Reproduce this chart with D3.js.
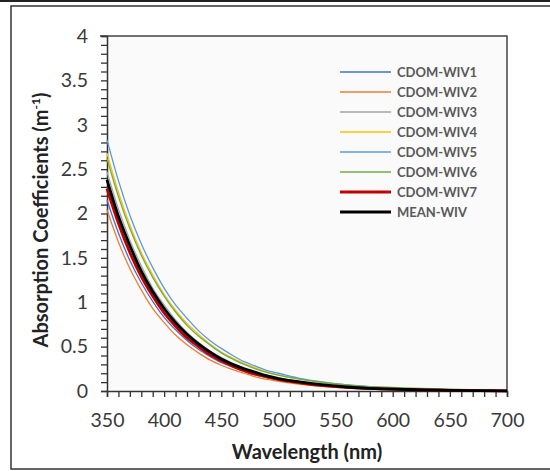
<!DOCTYPE html>
<html>
<head>
<meta charset="utf-8">
<script src="https://cdn.jsdelivr.net/npm/d3@7"></script>
<style>
  body { margin: 0; background: #fff; }
  svg { display: block; font-family: Lato, 'Open Sans', sans-serif; }
</style>
</head>
<body>
<svg id="chart" width="550" height="471"></svg>
<script>
// wavelengths (nm) and absorption values
const wavelengths = [350, 360, 370, 380, 390, 400, 410, 420, 430, 440, 450, 460, 470, 480, 490, 500,
                     520, 540, 560, 580, 600, 625, 650, 675, 700]

const wiv1 = [2.15, 1.78, 1.47, 1.22, 1.01, 0.83, 0.69, 0.57, 0.47, 0.39, 0.32, 0.27, 0.22, 0.18, 0.15, 0.12,
              0.09, 0.06, 0.04, 0.027, 0.019, 0.012, 0.007, 0.004, 0.002]
const wiv2 = [2.04, 1.68, 1.38, 1.14, 0.93, 0.77, 0.63, 0.52, 0.43, 0.35, 0.29, 0.24, 0.20, 0.16, 0.13, 0.11,
              0.075, 0.05, 0.035, 0.022, 0.015, 0.01, 0.006, 0.004, 0.002]
const wiv3 = [2.47, 2.05, 1.70, 1.41, 1.16, 0.97, 0.80, 0.66, 0.55, 0.45, 0.38, 0.31, 0.26, 0.21, 0.18, 0.15,
              0.10, 0.07, 0.05, 0.03, 0.02, 0.015, 0.01, 0.006, 0.003]
const wiv4 = [2.68, 2.24, 1.87, 1.56, 1.31, 1.09, 0.91, 0.76, 0.64, 0.53, 0.44, 0.37, 0.31, 0.26, 0.21, 0.18,
              0.13, 0.09, 0.06, 0.045, 0.03, 0.02, 0.012, 0.008, 0.004]
const wiv5 = [2.83, 2.37, 1.98, 1.66, 1.39, 1.16, 0.97, 0.82, 0.68, 0.57, 0.48, 0.40, 0.33, 0.28, 0.23, 0.20,
              0.14, 0.10, 0.07, 0.05, 0.035, 0.02, 0.015, 0.01, 0.005]
const wiv6 = [2.62, 2.19, 1.83, 1.53, 1.28, 1.07, 0.89, 0.74, 0.62, 0.52, 0.43, 0.36, 0.30, 0.25, 0.21, 0.18,
              0.13, 0.095, 0.07, 0.05, 0.04, 0.03, 0.02, 0.012, 0.006]
const wiv7 = [2.28, 1.89, 1.56, 1.29, 1.07, 0.88, 0.73, 0.60, 0.50, 0.41, 0.34, 0.28, 0.23, 0.19, 0.16, 0.13,
              0.09, 0.06, 0.04, 0.03, 0.02, 0.012, 0.007, 0.004, 0.002]
const meanWiv = [2.38, 1.97, 1.64, 1.35, 1.12, 0.93, 0.77, 0.64, 0.53, 0.44, 0.36, 0.30, 0.25, 0.21, 0.17, 0.14,
                 0.10, 0.07, 0.045, 0.03, 0.02, 0.013, 0.008, 0.004, 0.002]

const seriesNames = ['CDOM-WIV1', 'CDOM-WIV2', 'CDOM-WIV3', 'CDOM-WIV4', 'CDOM-WIV5', 'CDOM-WIV6', 'CDOM-WIV7', 'MEAN-WIV']
const seriesValues = [wiv1, wiv2, wiv3, wiv4, wiv5, wiv6, wiv7, meanWiv]
const seriesColors = ['#4472C4', '#ED7D31', '#A5A5A5', '#FFC000', '#5B9BD5', '#70AD47', '#C00000', '#000000']
const seriesWidths = [1.3, 1.3, 1.3, 1.3, 1.3, 1.3, 2.8, 2.8]

const xTickLabels = [350, 400, 450, 500, 550, 600, 650, 700]
const yTickLabels = [0, 0.5, 1, 1.5, 2, 2.5, 3, 3.5, 4]

const svg = d3.select('#chart')
const plotLeft = 107, plotRight = 507, plotTop = 36, plotBottom = 391

// outer frame
svg.append('line').attr('x1', 0).attr('x2', 550).attr('y1', 1).attr('y2', 1)
    .attr('stroke', '#222').attr('stroke-width', 2)
svg.append('rect').attr('x', 11).attr('y', 6).attr('width', 560).attr('height', 463)
    .attr('fill', '#fff').attr('stroke', '#333').attr('stroke-width', 1.5)

const x = d3.scaleLinear().domain([350, 700]).range([plotLeft, plotRight])
const y = d3.scaleLinear().domain([0, 4]).range([plotBottom, plotTop])

// plot area
svg.append('rect').attr('x', plotLeft).attr('y', plotTop)
    .attr('width', plotRight - plotLeft).attr('height', plotBottom - plotTop)
    .attr('fill', '#fafafa')
svg.append('path')
    .attr('d', `M${plotLeft - 7},${plotTop}H${plotRight}V${plotBottom}`)
    .attr('fill', 'none').attr('stroke', '#444').attr('stroke-width', 1.5)

// minor ticks
const yMinor = svg.append('g').attr('transform', `translate(${plotLeft},0)`)
    .call(d3.axisLeft(y).tickValues(d3.range(0, 41).map(d => d / 10)).tickSize(6).tickFormat(''))
const xMinor = svg.append('g').attr('transform', `translate(0,${plotBottom})`)
    .call(d3.axisBottom(x).tickValues(d3.range(350, 701, 10)).tickSize(6).tickFormat(''))
;[yMinor, xMinor].forEach(g => {
    g.selectAll('line').attr('stroke', '#333').attr('stroke-width', 1.3)
    g.select('.domain').attr('stroke', '#333').attr('stroke-width', 1.5)
})

// tick labels
const yAxis = svg.append('g').attr('transform', `translate(${plotLeft},0)`)
    .call(d3.axisLeft(y).tickValues(yTickLabels).tickSize(0).tickPadding(19).tickFormat(d3.format('')))
const xAxis = svg.append('g').attr('transform', `translate(0,${plotBottom})`)
    .call(d3.axisBottom(x).tickValues(xTickLabels).tickSize(0).tickPadding(22))
;[yAxis, xAxis].forEach(g => {
    g.select('.domain').remove()
    g.selectAll('text').attr('font-size', 19.5).attr('font-family', 'Lato, sans-serif').attr('fill', '#3a3a3a')
})

// curves
const line = d3.line().x((d, i) => x(wavelengths[i])).y(d => y(d)).curve(d3.curveMonotoneX)
seriesValues.forEach((vals, k) => {
    svg.append('path').datum(vals)
        .attr('d', line)
        .attr('fill', 'none')
        .attr('stroke', seriesColors[k])
        .attr('stroke-width', seriesWidths[k])
        .attr('stroke-linejoin', 'round')
})

// axis titles
svg.append('text')
    .attr('x', 307).attr('y', 459)
    .attr('text-anchor', 'middle')
    .attr('font-size', 20).attr('font-weight', 'bold').attr('fill', '#222')
    .text('Wavelength (nm)')

const yTitle = svg.append('text')
    .attr('transform', 'translate(48,220) rotate(-90)')
    .attr('text-anchor', 'middle')
    .attr('font-size', 20).attr('font-weight', 'bold').attr('fill', '#222')
yTitle.append('tspan').text('Absorption Coefficients (m')
yTitle.append('tspan').attr('font-size', 12).attr('dy', -8).text('-1')
yTitle.append('tspan').attr('dy', 8).text(')')

// legend
const legend = svg.append('g')
    .selectAll('g')
    .data(seriesNames)
    .enter()
    .append('g')
    .attr('transform', (d, i) => 'translate(340,' + (72 + i * 20) + ')')
legend.append('line')
    .attr('x1', 0).attr('x2', 51)
    .attr('stroke', (d, i) => seriesColors[i])
    .attr('stroke-width', (d, i) => seriesWidths[i] + 0.3)
legend.append('text')
    .attr('x', 57).attr('y', 5)
    .attr('font-size', 13).attr('font-weight', 'bold').attr('fill', '#595959')
    .text(d => d)
</script>
</body>
</html>
